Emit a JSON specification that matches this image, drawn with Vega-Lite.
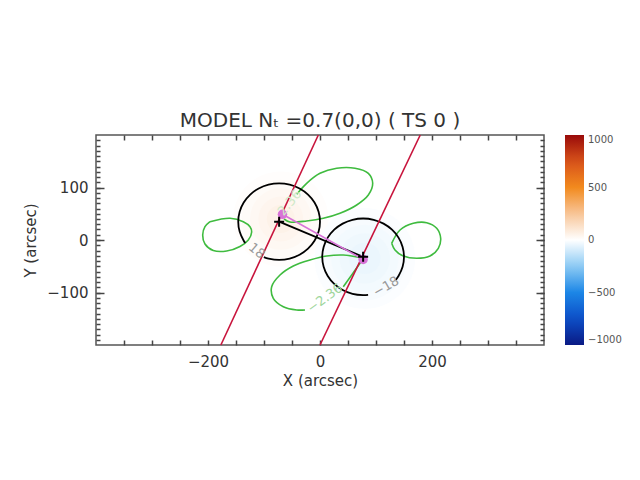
{
  "$schema": "https://vega.github.io/schema/vega-lite/v6.json",
  "width": 448,
  "height": 210,
  "autosize": {"type": "none"},
  "padding": {"left": 96, "top": 135, "right": 96, "bottom": 135},
  "title": {"text": "MODEL Nₜ =0.7(0,0) ( TS 0 )", "font": "DejaVu Sans", "fontSize": 20, "fontWeight": "normal", "color": "#333333", "anchor": "middle", "baseline": "alphabetic", "offset": -15},
  "config": {
    "view": {"stroke": "#555555", "strokeWidth": 1.5},
    "font": "DejaVu Sans",
    "axis": {"domain": false, "grid": false, "labelFont": "DejaVu Sans", "labelFontSize": 15, "labelColor": "#333333", "titleFont": "DejaVu Sans", "titleFontSize": 15, "titleFontWeight": "normal", "titleColor": "#333333", "tickColor": "#444444", "tickWidth": 1.5, "zindex": 2}
  },
  "datasets": {
    "blobs": [
      {"x": -70, "y": 40, "r": 85, "v": 8},
      {"x": -70, "y": 40, "r": 70, "v": 18},
      {"x": -70, "y": 40, "r": 55, "v": 30},
      {"x": -70, "y": 40, "r": 40, "v": 42},
      {"x": -70, "y": 40, "r": 25, "v": 55},
      {"x": 80, "y": -35, "r": 90, "v": -8},
      {"x": 80, "y": -35, "r": 75, "v": -17},
      {"x": 80, "y": -35, "r": 60, "v": -26},
      {"x": 80, "y": -35, "r": 45, "v": -35},
      {"x": 80, "y": -35, "r": 28, "v": -44}
    ],
    "lobes": [
      {"id": "U", "i": 0, "x": -41.6, "y": 87.0},
      {"id": "U", "i": 1, "x": -23.8, "y": 108.0},
      {"id": "U", "i": 2, "x": 0, "y": 127.0},
      {"id": "U", "i": 3, "x": 29.8, "y": 136.6},
      {"id": "U", "i": 4, "x": 62.5, "y": 136.6},
      {"id": "U", "i": 5, "x": 86.3, "y": 127.0},
      {"id": "U", "i": 6, "x": 94.1, "y": 108.0},
      {"id": "U", "i": 7, "x": 86.3, "y": 85.7},
      {"id": "U", "i": 8, "x": 65.5, "y": 66.7},
      {"id": "U", "i": 9, "x": 35.7, "y": 50.9},
      {"id": "U", "i": 10, "x": 5.9, "y": 41.3},
      {"id": "U", "i": 11, "x": -23.8, "y": 36.2},
      {"id": "U", "i": 12, "x": -53.6, "y": 34.3},
      {"id": "U", "i": 13, "x": -64.3, "y": 40.0},
      {"id": "D1", "i": 0, "x": 77.3, "y": -34.9},
      {"id": "D1", "i": 1, "x": 41.6, "y": -28.6},
      {"id": "D1", "i": 2, "x": 12.0, "y": -30.5},
      {"id": "D1", "i": 3, "x": -17.9, "y": -38.1},
      {"id": "D1", "i": 4, "x": -47.7, "y": -49.5},
      {"id": "D1", "i": 5, "x": -71.4, "y": -66.7},
      {"id": "D1", "i": 6, "x": -86.3, "y": -89.0},
      {"id": "D1", "i": 7, "x": -83.4, "y": -111.0},
      {"id": "D1", "i": 8, "x": -65.5, "y": -127.0},
      {"id": "D1", "i": 9, "x": -41.6, "y": -133.3},
      {"id": "D1", "i": 10, "x": -26.8, "y": -133.3},
      {"id": "D2", "i": 0, "x": 41.6, "y": -89.0},
      {"id": "D2", "i": 1, "x": 56.6, "y": -66.7},
      {"id": "D2", "i": 2, "x": 71.4, "y": -44.4},
      {"id": "D2", "i": 3, "x": 77.3, "y": -34.9},
      {"id": "L", "i": 0, "x": -196.4, "y": 34.9},
      {"id": "L", "i": 1, "x": -160.7, "y": 41.3},
      {"id": "L", "i": 2, "x": -137.0, "y": 34.9},
      {"id": "L", "i": 3, "x": -125.0, "y": 25.3},
      {"id": "L", "i": 4, "x": -122.0, "y": 15.2},
      {"id": "L", "i": 5, "x": -128.0, "y": 0},
      {"id": "L", "i": 6, "x": -142.9, "y": -12.4},
      {"id": "L", "i": 7, "x": -166.6, "y": -21.0},
      {"id": "L", "i": 8, "x": -190.5, "y": -20.0},
      {"id": "L", "i": 9, "x": -205.4, "y": -7.6},
      {"id": "L", "i": 10, "x": -209.5, "y": 9.5},
      {"id": "L", "i": 11, "x": -205.4, "y": 25.3},
      {"id": "L", "i": 12, "x": -196.4, "y": 34.9},
      {"id": "R", "i": 0, "x": 128.0, "y": -6.3},
      {"id": "R", "i": 1, "x": 142.9, "y": 19.0},
      {"id": "R", "i": 2, "x": 166.6, "y": 31.8},
      {"id": "R", "i": 3, "x": 190.5, "y": 33.0},
      {"id": "R", "i": 4, "x": 208.4, "y": 22.3},
      {"id": "R", "i": 5, "x": 215.5, "y": 3.2},
      {"id": "R", "i": 6, "x": 211.3, "y": -15.8},
      {"id": "R", "i": 7, "x": 196.4, "y": -30.5},
      {"id": "R", "i": 8, "x": 172.7, "y": -34.9},
      {"id": "R", "i": 9, "x": 148.8, "y": -30.5},
      {"id": "R", "i": 10, "x": 133.9, "y": -19.0},
      {"id": "R", "i": 11, "x": 128.0, "y": -6.3}
    ],
    "circles": [
      {"id": "CL", "i": 0, "x": -100.3, "y": -32.7},
      {"id": "CL", "i": 1, "x": -91.9, "y": -35.5},
      {"id": "CL", "i": 2, "x": -73, "y": -38},
      {"id": "CL", "i": 3, "x": -54.1, "y": -35.5},
      {"id": "CL", "i": 4, "x": -36.5, "y": -28.2},
      {"id": "CL", "i": 5, "x": -21.4, "y": -16.6},
      {"id": "CL", "i": 6, "x": -9.8, "y": -1.5},
      {"id": "CL", "i": 7, "x": -2.5, "y": 16.1},
      {"id": "CL", "i": 8, "x": 0, "y": 35},
      {"id": "CL", "i": 9, "x": -2.5, "y": 53.9},
      {"id": "CL", "i": 10, "x": -9.8, "y": 71.5},
      {"id": "CL", "i": 11, "x": -21.4, "y": 86.6},
      {"id": "CL", "i": 12, "x": -36.5, "y": 98.2},
      {"id": "CL", "i": 13, "x": -54.1, "y": 105.5},
      {"id": "CL", "i": 14, "x": -73, "y": 108},
      {"id": "CL", "i": 15, "x": -91.9, "y": 105.5},
      {"id": "CL", "i": 16, "x": -109.5, "y": 98.2},
      {"id": "CL", "i": 17, "x": -124.6, "y": 86.6},
      {"id": "CL", "i": 18, "x": -136.2, "y": 71.5},
      {"id": "CL", "i": 19, "x": -143.5, "y": 53.9},
      {"id": "CL", "i": 20, "x": -146, "y": 35},
      {"id": "CL", "i": 21, "x": -143.5, "y": 16.1},
      {"id": "CL", "i": 22, "x": -136.2, "y": -1.5},
      {"id": "CL", "i": 23, "x": -133.5, "y": -5.8},
      {"id": "CR", "i": 0, "x": 135.3, "y": -75.9},
      {"id": "CR", "i": 1, "x": 140.2, "y": -68.5},
      {"id": "CR", "i": 2, "x": 147.5, "y": -50.9},
      {"id": "CR", "i": 3, "x": 150, "y": -32},
      {"id": "CR", "i": 4, "x": 147.5, "y": -13.1},
      {"id": "CR", "i": 5, "x": 140.2, "y": 4.5},
      {"id": "CR", "i": 6, "x": 128.6, "y": 19.6},
      {"id": "CR", "i": 7, "x": 113.5, "y": 31.2},
      {"id": "CR", "i": 8, "x": 95.9, "y": 38.5},
      {"id": "CR", "i": 9, "x": 77, "y": 41},
      {"id": "CR", "i": 10, "x": 58.1, "y": 38.5},
      {"id": "CR", "i": 11, "x": 40.5, "y": 31.2},
      {"id": "CR", "i": 12, "x": 25.4, "y": 19.6},
      {"id": "CR", "i": 13, "x": 13.8, "y": 4.5},
      {"id": "CR", "i": 14, "x": 6.5, "y": -13.1},
      {"id": "CR", "i": 15, "x": 4, "y": -32},
      {"id": "CR", "i": 16, "x": 6.5, "y": -50.9},
      {"id": "CR", "i": 17, "x": 13.8, "y": -68.5},
      {"id": "CR", "i": 18, "x": 25.4, "y": -83.6},
      {"id": "CR", "i": 19, "x": 40.5, "y": -95.2},
      {"id": "CR", "i": 20, "x": 58.1, "y": -102.5},
      {"id": "CR", "i": 21, "x": 77, "y": -105},
      {"id": "CR", "i": 22, "x": 85.9, "y": -104.5}
    ],
    "red": [
      {"id": "a", "i": 0, "x": -177, "y": -200},
      {"id": "a", "i": 1, "x": -3, "y": 200},
      {"id": "b", "i": 0, "x": 0, "y": -200},
      {"id": "b", "i": 1, "x": 179, "y": 200}
    ],
    "centers": [
      {"i": 0, "x": -73, "y": 35},
      {"i": 1, "x": 77, "y": -32}
    ],
    "peaks": [
      {"i": 0, "x": -67, "y": 49},
      {"i": 1, "x": 77, "y": -37}
    ]
  },
  "resolve": {"axis": {"x": "independent", "y": "independent"}},
  "layer": [
    {
      "data": {"name": "blobs"},
      "mark": {"type": "circle", "opacity": 1},
      "encoding": {
        "x": {"field": "x", "type": "quantitative", "scale": {"domain": [-400, 400], "nice": false, "zero": false},
              "axis": {"orient": "bottom", "values": [-200, 0, 200], "ticks": false, "labelPadding": 9, "title": "X (arcsec)", "titlePadding": 4}},
        "y": {"field": "y", "type": "quantitative", "scale": {"domain": [-200, 200], "nice": false, "zero": false},
              "axis": {"orient": "left", "values": [-100, 0, 100], "ticks": false, "labelPadding": 8, "title": "Y (arcsec)", "titlePadding": 8}},
        "size": {"field": "r", "type": "quantitative", "scale": {"type": "pow", "exponent": 2, "domain": [0, 100], "range": [0, 12544]}, "legend": null},
        "color": {"field": "v", "type": "quantitative",
                  "scale": {"domain": [-1000, -750, -500, -250, 0, 250, 500, 750, 1000], "interpolate": "rgb",
                            "range": ["#0a1a84", "#0c4ec8", "#1c86e6", "#8ccbf4", "#ffffff", "#f8c598", "#f28a1e", "#d8521a", "#990a0a"]},
                  "legend": {"orient": "none", "legendX": 469, "legendY": 0, "direction": "vertical", "gradientLength": 210, "gradientThickness": 19, "title": null, "values": [-1000, -500, 0, 500, 1000], "format": "d", "labelFontSize": 10, "labelColor": "#555555", "labelOffset": 4, "labelOverlap": false, "gradientStrokeWidth": 0}}
      }
    },
    {
      "data": {"name": "lobes"},
      "mark": {"type": "line", "color": "#3fbb3f", "strokeWidth": 1.6, "interpolate": "catmull-rom"},
      "encoding": {
        "x": {"field": "x", "type": "quantitative",
              "axis": {"orient": "bottom", "values": [-350, -300, -250, -200, -150, -100, -50, 0, 50, 100, 150, 200, 250, 300, 350], "labels": false, "ticks": true, "tickSize": 5, "offset": -5, "title": null}},
        "y": {"field": "y", "type": "quantitative",
              "axis": {"orient": "left", "values": [-190, -180, -170, -160, -150, -140, -130, -120, -110, -100, -90, -80, -70, -60, -50, -40, -30, -20, -10, 0, 10, 20, 30, 40, 50, 60, 70, 80, 90, 100, 110, 120, 130, 140, 150, 160, 170, 180, 190], "labels": false, "ticks": true, "tickSize": 4, "offset": -4, "title": null}},
        "detail": {"field": "id"},
        "order": {"field": "i", "type": "quantitative"}
      }
    },
    {
      "data": {"name": "circles"},
      "mark": {"type": "line", "color": "#000000", "strokeWidth": 1.8, "interpolate": "catmull-rom"},
      "encoding": {
        "x": {"field": "x", "type": "quantitative",
              "axis": {"orient": "top", "values": [-350, -300, -250, -200, -150, -100, -50, 0, 50, 100, 150, 200, 250, 300, 350], "labels": false, "ticks": true, "tickSize": 5, "offset": -5, "title": null}},
        "y": {"field": "y", "type": "quantitative",
              "axis": {"orient": "right", "values": [-190, -180, -170, -160, -150, -140, -130, -120, -110, -100, -90, -80, -70, -60, -50, -40, -30, -20, -10, 0, 10, 20, 30, 40, 50, 60, 70, 80, 90, 100, 110, 120, 130, 140, 150, 160, 170, 180, 190], "labels": false, "ticks": true, "tickSize": 4, "offset": -4, "title": null}},
        "detail": {"field": "id"},
        "order": {"field": "i", "type": "quantitative"}
      }
    },
    {
      "data": {"name": "red"},
      "mark": {"type": "line", "color": "#c8143c", "strokeWidth": 1.6},
      "encoding": {
        "x": {"field": "x", "type": "quantitative", "axis": null},
        "y": {"field": "y", "type": "quantitative",
              "axis": {"orient": "left", "values": [-100, 0, 100], "labels": false, "ticks": true, "tickSize": 8, "offset": -8, "title": null}},
        "detail": {"field": "id"},
        "order": {"field": "i", "type": "quantitative"}
      }
    },
    {
      "data": {"name": "centers"},
      "mark": {"type": "line", "color": "#000000", "strokeWidth": 1.8},
      "encoding": {
        "x": {"field": "x", "type": "quantitative", "axis": null},
        "y": {"field": "y", "type": "quantitative",
              "axis": {"orient": "right", "values": [-100, 0, 100], "labels": false, "ticks": true, "tickSize": 8, "offset": -8, "title": null}},
        "order": {"field": "i", "type": "quantitative"}
      }
    },
    {
      "data": {"name": "peaks"},
      "mark": {"type": "line", "color": "#d873d8", "strokeWidth": 1.6},
      "encoding": {
        "x": {"field": "x", "type": "quantitative", "axis": null},
        "y": {"field": "y", "type": "quantitative", "axis": null},
        "order": {"field": "i", "type": "quantitative"}
      }
    },
    {
      "data": {"name": "peaks"},
      "mark": {"type": "point", "shape": "circle", "filled": true, "color": "#d873d8", "opacity": 1, "size": 90},
      "encoding": {
        "x": {"field": "x", "type": "quantitative", "axis": null},
        "y": {"field": "y", "type": "quantitative", "axis": null}
      }
    },
    {
      "data": {"name": "centers"},
      "mark": {"type": "point", "shape": "M-1,0L1,0M0,-1L0,1", "filled": false, "color": "#000000", "strokeWidth": 2, "opacity": 1, "size": 100},
      "encoding": {
        "x": {"field": "x", "type": "quantitative", "axis": null},
        "y": {"field": "y", "type": "quantitative", "axis": null}
      }
    },
    {
      "data": {"values": [{"t": "18", "x": -113, "y": -21}]},
      "mark": {"type": "text", "angle": 40, "fontSize": 13, "color": "#9a9a9a", "align": "center", "baseline": "middle"},
      "encoding": {
        "x": {"field": "x", "type": "quantitative", "axis": null},
        "y": {"field": "y", "type": "quantitative", "axis": null},
        "text": {"field": "t"}
      }
    },
    {
      "data": {"values": [{"t": "−18", "x": 118, "y": -89}]},
      "mark": {"type": "text", "angle": -30, "fontSize": 13, "color": "#9a9a9a", "align": "center", "baseline": "middle"},
      "encoding": {
        "x": {"field": "x", "type": "quantitative", "axis": null},
        "y": {"field": "y", "type": "quantitative", "axis": null},
        "text": {"field": "t"}
      }
    },
    {
      "data": {"values": [{"t": "−2.36", "x": 9, "y": -111}]},
      "mark": {"type": "text", "angle": -36, "fontSize": 13, "color": "#a0d69c", "align": "center", "baseline": "middle"},
      "encoding": {
        "x": {"field": "x", "type": "quantitative", "axis": null},
        "y": {"field": "y", "type": "quantitative", "axis": null},
        "text": {"field": "t"}
      }
    },
    {
      "data": {"values": [{"t": "2.36", "x": -54, "y": 71}]},
      "mark": {"type": "text", "angle": -50, "fontSize": 13, "color": "#cfe9c8", "align": "center", "baseline": "middle"},
      "encoding": {
        "x": {"field": "x", "type": "quantitative", "axis": null},
        "y": {"field": "y", "type": "quantitative", "axis": null},
        "text": {"field": "t"}
      }
    }
  ]
}
